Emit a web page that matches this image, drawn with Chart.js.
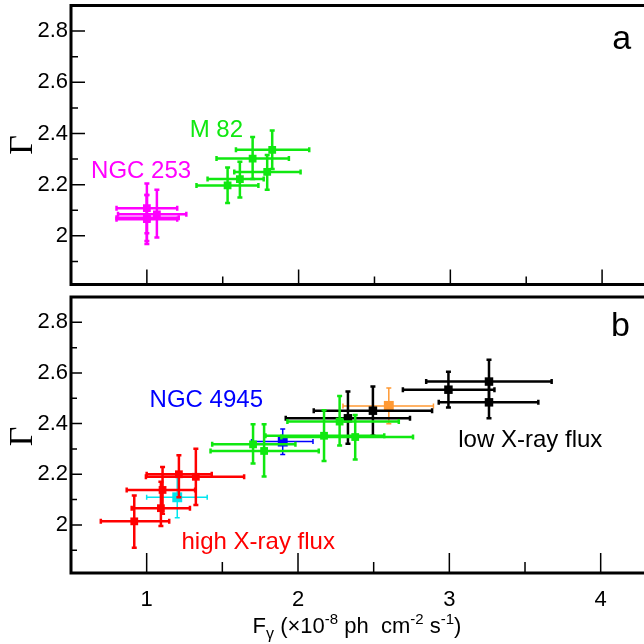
<!DOCTYPE html>
<html lang="en">
<head>
<meta charset="UTF-8">
<title>Photon index vs gamma-ray flux</title>
<script src="https://cdn.jsdelivr.net/npm/chart.js"></script>
<style>
  body { margin: 0; background: #fff; width: 644px; height: 644px; overflow: hidden; position: relative; }
  #panelA { position: absolute; left: 0; top: 0; }
  #panelB { position: absolute; left: 0; top: 290px; }
</style>
</head>
<body>
<canvas id="panelA" width="644" height="290"></canvas>
<canvas id="panelB" width="644" height="354"></canvas>
<script>
// axis ticks
const xTicks = [1, 2, 3, 4];
const xMinorTicks = [1.5, 2.5, 3.5];
const yTicks = [2, 2.2, 2.4, 2.6, 2.8];
const yTickLabels = ['2', '2.2', '2.4', '2.6', '2.8'];
const yMinorTicks = [1.9, 2.1, 2.3, 2.5, 2.7];

// panel a - NGC 253
const n253X = [1.0, 1.066, 1.0, 1.0];
const n253Y = [2.108, 2.084, 2.071, 2.065];
const n253XLo = [0.80, 0.81, 0.80, 0.80];
const n253XHi = [1.20, 1.26, 1.21, 1.20];
const n253YLo = [2.01, 1.994, 1.98, 1.968];
const n253YHi = [2.205, 2.18, 2.16, 2.16];

// panel a - M 82
const m82X = [1.532, 1.613, 1.697, 1.793, 1.826];
const m82Y = [2.197, 2.222, 2.302, 2.250, 2.336];
const m82XLo = [1.327, 1.40, 1.459, 1.576, 1.587];
const m82XHi = [1.735, 1.77, 1.936, 2.013, 2.07];
const m82YLo = [2.128, 2.15, 2.222, 2.18, 2.261];
const m82YHi = [2.267, 2.29, 2.386, 2.316, 2.412];

// panel b - high X-ray flux (red)
const highX = [0.918, 1.094, 1.105, 1.213, 1.325];
const highY = [2.014, 2.066, 2.138, 2.200, 2.190];
const highXLo = [0.697, 0.901, 0.868, 1.0, 0.995];
const highXHi = [1.149, 1.286, 1.32, 1.43, 1.644];
const highYLo = [1.910, 1.996, 2.044, 2.109, 2.079];
const highYHi = [2.116, 2.170, 2.229, 2.275, 2.301];

// panel b - cyan
const cyanX = [1.202];
const cyanY = [2.109];
const cyanXLo = [1.0];
const cyanXHi = [1.40];
const cyanYLo = [2.028];
const cyanYHi = [2.19];

// panel b - green
const greenX = [1.703, 1.776, 2.172, 2.275, 2.378];
const greenY = [2.318, 2.292, 2.352, 2.408, 2.347];
const greenXLo = [1.433, 1.422, 1.785, 1.93, 1.89];
const greenXHi = [1.983, 2.137, 2.57, 2.666, 2.76];
const greenYLo = [2.242, 2.191, 2.252, 2.314, 2.258];
const greenYHi = [2.397, 2.397, 2.453, 2.509, 2.434];

// panel b - NGC 4945 (blue)
const blueX = [1.899];
const blueY = [2.329];
const blueXLo = [1.693];
const blueXHi = [2.099];
const blueYLo = [2.278];
const blueYHi = [2.379];

// panel b - low X-ray flux (black)
const lowX = [2.33, 2.495, 2.994, 3.262, 3.262];
const lowY = [2.421, 2.451, 2.534, 2.566, 2.484];
const lowXLo = [1.919, 2.104, 2.693, 2.847, 2.93];
const lowXHi = [2.74, 2.886, 3.298, 3.676, 3.588];
const lowYLo = [2.32, 2.352, 2.464, 2.49, 2.421];
const lowYHi = [2.527, 2.547, 2.605, 2.652, 2.56];

// panel b - orange
const orangeX = [2.60];
const orangeY = [2.47];
const orangeXLo = [2.297];
const orangeXHi = [2.895];
const orangeYLo = [2.399];
const orangeYHi = [2.541];

const FONT = "'Liberation Sans', Arial, sans-serif";

function makeSet(xs, ys, xlo, xhi, ylo, yhi, color, size, lw) {
    return {
        data: xs.map((x, i) => ({ x: x, y: ys[i] })),
        err: { xlo: xlo, xhi: xhi, ylo: ylo, yhi: yhi },
        errWidth: lw,
        pointStyle: 'rect',
        pointRadius: size,
        pointBackgroundColor: color,
        pointBorderColor: color,
        borderColor: color,
        pointBorderWidth: 0,
        showLine: false
    };
}

// error bars drawn right before each dataset's markers
const errorBars = {
    id: 'errorBars',
    beforeDatasetDraw(chart, args) {
        const ds = chart.data.datasets[args.index];
        if (!ds.err) return;
        const xs = chart.scales.x, ys = chart.scales.y, ctx = chart.ctx;
        const cap = 2.5;
        ctx.save();
        ctx.strokeStyle = ds.borderColor;
        ctx.lineWidth = ds.errWidth;
        ds.data.forEach((p, i) => {
            const px = xs.getPixelForValue(p.x), py = ys.getPixelForValue(p.y);
            const x0 = xs.getPixelForValue(ds.err.xlo[i]), x1 = xs.getPixelForValue(ds.err.xhi[i]);
            const y0 = ys.getPixelForValue(ds.err.ylo[i]), y1 = ys.getPixelForValue(ds.err.yhi[i]);
            ctx.beginPath();
            ctx.moveTo(x0, py); ctx.lineTo(x1, py);
            ctx.moveTo(px, y0); ctx.lineTo(px, y1);
            ctx.moveTo(x0, py - cap); ctx.lineTo(x0, py + cap);
            ctx.moveTo(x1, py - cap); ctx.lineTo(x1, py + cap);
            ctx.moveTo(px - cap, y0); ctx.lineTo(px + cap, y0);
            ctx.moveTo(px - cap, y1); ctx.lineTo(px + cap, y1);
            ctx.stroke();
        });
        ctx.restore();
    }
};

// frame, inward ticks, Γ title and text notes
const decor = {
    id: 'decor',
    afterDraw(chart, args, opts) {
        const ctx = chart.ctx, a = chart.chartArea;
        const xs = chart.scales.x, ys = chart.scales.y;
        ctx.save();
        ctx.strokeStyle = '#000';
        ctx.lineWidth = 1.5;
        ctx.beginPath();
        xTicks.forEach(v => { const p = xs.getPixelForValue(v); ctx.moveTo(p, a.bottom); ctx.lineTo(p, a.bottom - opts.xMajor); });
        xMinorTicks.forEach(v => { const p = xs.getPixelForValue(v); ctx.moveTo(p, a.bottom); ctx.lineTo(p, a.bottom - opts.xMinor); });
        yTicks.forEach(v => { const p = ys.getPixelForValue(v); ctx.moveTo(a.left, p); ctx.lineTo(a.left + opts.yMajor, p); });
        yMinorTicks.forEach(v => { const p = ys.getPixelForValue(v); ctx.moveTo(a.left, p); ctx.lineTo(a.left + opts.yMinor, p); });
        ctx.stroke();

        ctx.lineWidth = 3;
        ctx.beginPath();
        ctx.moveTo(chart.width, a.top); ctx.lineTo(a.left, a.top);
        ctx.lineTo(a.left, a.bottom); ctx.lineTo(chart.width, a.bottom);
        ctx.stroke();

        // rotated Γ
        ctx.fillStyle = '#000';
        ctx.font = "34px 'Liberation Serif', 'DejaVu Serif', serif";
        ctx.translate(32, a.top + 139.5);
        ctx.rotate(-Math.PI / 2);
        ctx.textAlign = 'center';
        ctx.textBaseline = 'alphabetic';
        ctx.fillText('Γ', 0, 0);
        ctx.restore();

        ctx.save();
        ctx.textAlign = 'center';
        ctx.textBaseline = 'middle';
        opts.notes.forEach(n => {
            ctx.fillStyle = n.color;
            ctx.font = n.size + 'px ' + FONT;
            ctx.fillText(n.text, xs.getPixelForValue(n.x), ys.getPixelForValue(n.y));
        });

        if (opts.xTitle) {
            // F_γ (×10^-8 ph  cm^-2 s^-1)
            const parts = [
                ['F', 0, 22], ['γ', 6, 16], [' (×10', 0, 22], ['-8', -9, 15],
                [' ph  cm', 0, 22], ['-2', -9, 15], [' s', 0, 22], ['-1', -9, 15], [')', 0, 22]
            ];
            ctx.textAlign = 'left';
            ctx.textBaseline = 'alphabetic';
            ctx.fillStyle = '#000';
            let w = 0;
            parts.forEach(p => { ctx.font = p[2] + 'px ' + FONT; w += ctx.measureText(p[0]).width; });
            let x = 357 - w / 2;
            const base = opts.xTitle;
            parts.forEach(p => {
                ctx.font = p[2] + 'px ' + FONT;
                ctx.fillText(p[0], x, base + p[1]);
                x += ctx.measureText(p[0]).width;
            });
        }
        ctx.restore();
    }
};

function baseOptions(showX, xHeight, topPad, decorOpts) {
    return {
        responsive: false,
        animation: false,
        events: [],
        layout: { padding: { top: topPad, left: 0, right: 0, bottom: 0 } },
        plugins: {
            legend: { display: false },
            tooltip: { enabled: false },
            decor: decorOpts
        },
        scales: {
            x: {
                type: 'linear',
                min: 0.5,
                max: 4.24,
                grid: { display: false, drawTicks: false },
                border: { display: false },
                afterBuildTicks: s => { s.ticks = xTicks.map(v => ({ value: v })); },
                afterFit: s => { s.height = xHeight; s.paddingLeft = 0; s.paddingRight = 0; },
                ticks: {
                    display: showX,
                    color: '#000',
                    font: { family: FONT, size: 22 },
                    padding: 14,
                    maxRotation: 0,
                    callback: v => String(v)
                }
            },
            y: {
                type: 'linear',
                min: 1.81,
                max: 2.9,
                grid: { display: false, drawTicks: false },
                border: { display: false },
                afterBuildTicks: s => { s.ticks = yTicks.map(v => ({ value: v })); },
                afterFit: s => { s.width = 71; s.paddingTop = 0; s.paddingBottom = 0; },
                ticks: {
                    color: '#000',
                    font: { family: FONT, size: 22 },
                    padding: 3,
                    callback: v => yTickLabels[yTicks.indexOf(v)]
                }
            }
        }
    };
}

new Chart(document.getElementById('panelA'), {
    type: 'scatter',
    data: {
        datasets: [
            makeSet(n253X, n253Y, n253XLo, n253XHi, n253YLo, n253YHi, '#ff00ff', 5.5, 2.5),
            makeSet(m82X, m82Y, m82XLo, m82XHi, m82YLo, m82YHi, '#10e810', 5.5, 2.5)
        ]
    },
    options: baseOptions(false, 5, 5, {
        xMajor: 15, xMinor: 8, yMajor: 14, yMinor: 7,
        notes: [
            { text: 'a', x: 4.13, y: 2.765, color: '#000', size: 34 },
            { text: 'NGC 253', x: 0.962, y: 2.252, color: '#ff00ff', size: 24 },
            { text: 'M 82', x: 1.458, y: 2.411, color: '#10e810', size: 24 }
        ]
    }),
    plugins: [errorBars, decor]
});

new Chart(document.getElementById('panelB'), {
    type: 'scatter',
    data: {
        datasets: [
            makeSet(highX, highY, highXLo, highXHi, highYLo, highYHi, '#ff0000', 5.5, 2.5),
            makeSet(cyanX, cyanY, cyanXLo, cyanXHi, cyanYLo, cyanYHi, '#00e5ee', 7, 1.5),
            makeSet(greenX, greenY, greenXLo, greenXHi, greenYLo, greenYHi, '#10e810', 5.5, 2.5),
            makeSet(blueX, blueY, blueXLo, blueXHi, blueYLo, blueYHi, '#0000ff', 7, 1.5),
            makeSet(lowX, lowY, lowXLo, lowXHi, lowYLo, lowYHi, '#000000', 6, 2.5),
            makeSet(orangeX, orangeY, orangeXLo, orangeXHi, orangeYLo, orangeYHi, '#ff9933', 7, 1.5)
        ]
    },
    options: baseOptions(true, 71, 0, {
        xMajor: 20, xMinor: 11, yMajor: 11, yMinor: 6,
        xTitle: 343,
        notes: [
            { text: 'b', x: 4.13, y: 2.783, color: '#000', size: 34 },
            { text: 'NGC 4945', x: 1.394, y: 2.491, color: '#0000ff', size: 24 },
            { text: 'low X-ray flux', x: 3.535, y: 2.335, color: '#000', size: 24 },
            { text: 'high X-ray flux', x: 1.737, y: 1.93, color: '#ff0000', size: 24 }
        ]
    }),
    plugins: [errorBars, decor]
});
</script>
</body>
</html>
